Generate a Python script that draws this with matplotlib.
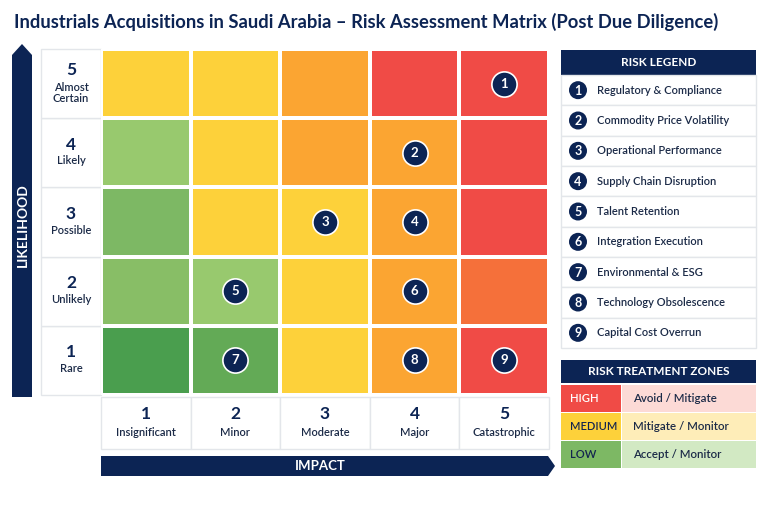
import matplotlib
matplotlib.use('Agg')
import numpy as np
import matplotlib.pyplot as plt
from matplotlib.colors import ListedColormap, BoundaryNorm
from matplotlib.patches import Rectangle, Polygon, Circle

plt.rcParams['font.family'] = ['Lato', 'DejaVu Sans']

title = "Industrials Acquisitions in Saudi Arabia \u2013 Risk Assessment Matrix (Post Due Diligence)"

impact_nums = [1, 2, 3, 4, 5]
impact_names = ['Insignificant', 'Minor', 'Moderate', 'Major', 'Catastrophic']
likelihood_nums = [1, 2, 3, 4, 5]
likelihood_names = ['Rare', 'Unlikely', 'Possible', 'Likely', 'Almost\nCertain']

# zone level of each cell, rows = likelihood 1..5, cols = impact 1..5
levels = [
    [0, 1, 5, 6, 8],
    [3, 4, 5, 6, 7],
    [2, 5, 5, 6, 8],
    [4, 5, 6, 6, 8],
    [5, 5, 6, 8, 8],
]
palette = ['#4A9E4E', '#63AA56', '#7DB864', '#88BE66', '#98C96E',
           '#FDD13A', '#FBA532', '#F5703A', '#F04B46']

risk_ids = [1, 2, 3, 4, 5, 6, 7, 8, 9]
risk_names = ['Regulatory & Compliance', 'Commodity Price Volatility',
              'Operational Performance', 'Supply Chain Disruption',
              'Talent Retention', 'Integration Execution',
              'Environmental & ESG', 'Technology Obsolescence',
              'Capital Cost Overrun']
risk_impact = [5, 4, 3, 4, 2, 4, 2, 4, 5]
risk_likelihood = [5, 4, 3, 3, 2, 2, 1, 1, 1]

zones = ['HIGH', 'MEDIUM', 'LOW']
zone_actions = ['Avoid / Mitigate', 'Mitigate / Monitor', 'Accept / Monitor']
zone_colors = ['#F04B46', '#FDD13A', '#7DB864']
zone_light = ['#FCDAD6', '#FEEDB8', '#D2E9C3']
zone_text = ['white', '#13254F', '#13254F']

NAVY = '#0C2454'
TXT = '#1B2A47'
BORDER = '#E3E6EA'

W, H = 768, 512
fig = plt.figure(figsize=(W / 100, H / 100), dpi=100)
fig.patch.set_facecolor('white')

bg = fig.add_axes([0, 0, 1, 1])
bg.set_xlim(0, W)
bg.set_ylim(H, 0)
bg.axis('off')

bg.text(14, 22, title, fontsize=13.2, fontweight='bold', color=NAVY,
        ha='left', va='center')

# matrix geometry in pixels
mx0, mx1, my0, my1 = 101, 549, 49, 395
cw = (mx1 - mx0) / 5
ch = (my1 - my0) / 5

ax = fig.add_axes([mx0 / W, 1 - my1 / H, (mx1 - mx0) / W, (my1 - my0) / H])
cmap = ListedColormap(palette)
norm = BoundaryNorm(np.arange(-0.5, len(palette) + 0.5), len(palette))
edges = np.arange(0.5, 6.0, 1.0)
ax.pcolormesh(edges, edges, np.array(levels), cmap=cmap, norm=norm,
              edgecolors='white', linewidth=1.6)
ax.set_xlim(0.5, 5.5)
ax.set_ylim(0.5, 5.5)
ax.axis('off')

ax.scatter(risk_impact, risk_likelihood, s=330, color=NAVY,
           edgecolors='white', linewidths=1.2, zorder=3)
for rid, xi, yi in zip(risk_ids, risk_impact, risk_likelihood):
    ax.text(xi, yi, str(rid), color='white', fontsize=9.5, fontweight='bold',
            ha='center', va='center', zorder=4)

# row labels
for i, (num, name) in enumerate(zip(likelihood_nums, likelihood_names)):
    top = my1 - (i + 1) * ch
    bg.add_patch(Rectangle((41, top), mx0 - 41, ch, facecolor='white',
                           edgecolor=BORDER, linewidth=1))
    cy = top + ch / 2
    two = '\n' in name
    bg.text(71, cy - (14 if two else 8), str(num), fontsize=12.5,
            fontweight='bold', color=NAVY, ha='center', va='center')
    bg.text(71, cy + (9 if two else 8), name, fontsize=8, color=TXT,
            fontweight='semibold', ha='center', va='center', linespacing=1.0)

# column labels
for j, (num, name) in enumerate(zip(impact_nums, impact_names)):
    left = mx0 + j * cw
    bg.add_patch(Rectangle((left, 397), cw, 52, facecolor='white',
                           edgecolor=BORDER, linewidth=1))
    cx = left + cw / 2
    bg.text(cx, 414, str(num), fontsize=12.5, fontweight='bold', color=NAVY,
            ha='center', va='center')
    bg.text(cx, 432, name, fontsize=8, color=TXT, fontweight='semibold',
            ha='center', va='center')

# axis arrows
bg.add_patch(Polygon([(101, 456), (548, 456), (555, 466), (548, 476), (101, 476)],
                     closed=True, facecolor=NAVY, edgecolor='none'))
bg.text(320, 466.5, 'IMPACT', color='white', fontsize=9.5, fontweight='bold',
        ha='center', va='center')
bg.add_patch(Polygon([(12, 397), (12, 55), (22, 44), (32, 55), (32, 397)],
                     closed=True, facecolor=NAVY, edgecolor='none'))
bg.text(22.5, 225, 'LIKELIHOOD', color='white', fontsize=10, fontweight='bold',
        ha='center', va='center', rotation=90)

# risk legend
lx0, lx1 = 561, 756
bg.add_patch(Rectangle((lx0, 50), lx1 - lx0, 25, facecolor=NAVY, edgecolor='none'))
bg.text((lx0 + lx1) / 2, 62.5, 'RISK LEGEND', color='white', fontsize=8.5,
        fontweight='bold', ha='center', va='center')
rh = (348 - 75) / len(risk_ids)
for k, (rid, name) in enumerate(zip(risk_ids, risk_names)):
    top = 75 + k * rh
    bg.add_patch(Rectangle((lx0, top), lx1 - lx0, rh, facecolor='white',
                           edgecolor=BORDER, linewidth=1))
    cy = top + rh / 2
    bg.add_patch(Circle((578, cy), 9, facecolor=NAVY, edgecolor='none'))
    bg.text(578, cy + 0.5, str(rid), color='white', fontsize=9,
            fontweight='bold', ha='center', va='center')
    bg.text(597, cy, name, color=TXT, fontsize=8, fontweight='semibold',
            ha='left', va='center')

# treatment zones
bg.add_patch(Rectangle((lx0, 360), lx1 - lx0, 23, facecolor=NAVY, edgecolor='none'))
bg.text((lx0 + lx1) / 2, 371.5, 'RISK TREATMENT ZONES', color='white',
        fontsize=8.5, fontweight='bold', ha='center', va='center')
zh = 28.3
for k, (z, act) in enumerate(zip(zones, zone_actions)):
    top = 384.5 + k * zh
    bg.add_patch(Rectangle((lx0, top), 60, zh - 1.2, facecolor=zone_colors[k],
                           edgecolor='none'))
    bg.add_patch(Rectangle((lx0 + 61, top), lx1 - lx0 - 61, zh - 1.2,
                           facecolor=zone_light[k], edgecolor='none'))
    cy = top + (zh - 1.2) / 2
    bg.text(570, cy, z, color=zone_text[k], fontsize=8, fontweight='semibold',
            ha='left', va='center')
    bg.text(633, cy, act, color=TXT, fontsize=8.3, fontweight='semibold',
            ha='left', va='center')

fig.savefig('out.png', dpi=100, facecolor='white')
